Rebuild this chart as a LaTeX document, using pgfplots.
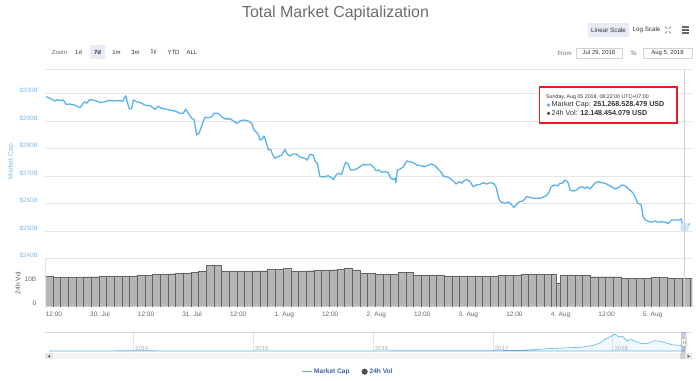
\documentclass[border=0pt]{standalone}
\usepackage{pgfplots}
\pgfplotsset{compat=1.18}
\usepackage{fontspec}
\setmainfont{Liberation Sans}
\definecolor{mcblue}{RGB}{88,178,236}
\definecolor{lblblue}{RGB}{124,186,236}
\definecolor{gridc}{RGB}{230,230,230}
\definecolor{txtgray}{RGB}{102,102,102}
\definecolor{txtdark}{RGB}{51,51,51}
\definecolor{btnbg}{RGB}{230,235,245}
\definecolor{legblue}{RGB}{60,100,160}
\definecolor{ttred}{RGB}{232,28,36}
\definecolor{barfill}{RGB}{182,182,182}
\definecolor{barline}{RGB}{100,100,100}
\newcommand{\fs}[1]{\fontsize{#1}{#1}\selectfont}
\begin{document}
\begin{tikzpicture}[x=1bp,y=1bp]
\useasboundingbox (0,0) rectangle (696,380);
% header
\node[font=\fs{16}, text=gray!85!black] at (335.5,367) {Total Market Capitalization};
\fill[btnbg] (588,343) rectangle (629,357);
\node[font=\fs{6.3}, text=txtdark] at (608.5,350) {Linear Scale};
\node[font=\fs{6.3}, text=txtdark] at (646.5,350) {Log Scale};
\draw[txtgray, line width=0.6] (665,346.5)--(667.2,348.7) (671,353.5)--(668.8,351.3) (665,353.5)--(667.2,351.3) (671,346.5)--(668.8,348.7);
\draw[txtgray, line width=1.2] (682,353)--(689,353) (682,350)--(689,350) (682,347)--(689,347);
\node[font=\fs{6}, text=txtgray] at (59.5,328) {Zoom};
\fill[btnbg] (90,321) rectangle (105,335);
\node[font=\fs{6}, text=txtdark] at (78.5,328) {1d};
\node[font=\bfseries\fs{6}, text=txtdark] at (97.5,328) {7d};
\node[font=\fs{6}, text=txtdark] at (116.5,328) {1m};
\node[font=\fs{6}, text=txtdark] at (135.5,328) {3m};
\node[font=\fs{6}, text=txtdark] at (153.5,328) {1y};
\node[font=\fs{6}, text=txtdark] at (173.5,328) {YTD};
\node[font=\fs{6}, text=txtdark] at (192,328) {ALL};
\node[font=\fs{6}, text=txtgray] at (564.5,327) {From};
\draw[gray!35] (576,322) rectangle (622,332);
\node[font=\fs{6}, text=txtdark] at (599,327) {Jul 29, 2018};
\node[font=\fs{6}, text=txtgray] at (633.5,327) {To};
\draw[gray!35] (643,322) rectangle (692,332);
\node[font=\fs{6}, text=txtdark] at (667.5,327) {Aug 5, 2018};
\draw[gridc, line width=0.6] (45,310.7)--(692,310.7);
% axis titles
\node[rotate=90, font=\fs{6.8}, text=lblblue] at (11,218.3) {Market Cap};
\node[rotate=90, font=\fs{6.8}, text=gray!70!black] at (18,97) {24h Vol};
% main axis
\begin{axis}[at={(45bp,121.7bp)}, anchor=south west, scale only axis,
  width=647bp, height=165bp,
  xmin=9.67, xmax=178.27, ymin=240, ymax=300,
  axis line style={draw=none}, xtick=\empty,
  ytick={240,250,...,300},
  yticklabels={\$240B,\$250B,\$260B,\$270B,\$280B,\$290B,\$300B},
  ymajorgrids, grid style={gridc, line width=0.6bp},
  major tick length=0pt,
  yticklabel style={font=\fs{6.3}, text=lblblue, anchor=east, inner sep=0pt, xshift=-7bp, yshift=2.6bp},
  clip=false,
  legend columns=2,
  legend style={at={(0.468,-0.687)}, anchor=center, draw=none, fill=none,
    font=\bfseries\fs{6.6}, nodes={text=legblue},
    /tikz/every even column/.append style={column sep=10bp}},
]
\addplot[mcblue, line width=1.3bp, line join=round,
  legend image code/.code={\draw[mcblue,line width=1.1bp] (0bp,0bp)--(10bp,0bp);}] coordinates {
(9.93,298.77) (10.97,298.17) (12.27,297.2) (12.87,297.7) (13.58,297.3) (14.44,297.6) (15.14,296.0) (16.18,296.1) (17.49,295.7) (18.79,294.8) (19.91,296.9) (20.53,296.4) (21.39,297.7) (22.70,297.4) (24.00,296.6) (25.30,296.9) (26.16,297.4) (27.47,297.2) (28.77,297.3) (29.92,297.2) (30.70,299.1) (31.22,296.4) (31.64,294.3) (32.26,294.5) (32.68,297.6) (33.56,296.9) (34.42,296.7) (35.73,295.7) (37.03,295.5) (38.33,294.2) (39.19,295.3) (40.08,294.5) (41.38,294.2) (42.68,293.7) (43.54,293.6) (44.85,292.7) (45.71,292.8) (46.33,294.2) (47.01,292.7) (47.90,290.9) (48.50,290.5) (49.20,284.8) (49.88,285.7) (50.76,289.2) (51.36,291.3)
(52.22,291.1) (53.11,291.5) (53.71,292.7) (54.83,292.7) (55.71,291.5) (56.57,290.7) (57.88,290.7) (58.74,290.0) (59.62,289.1) (60.48,289.9) (61.34,290.3) (62.65,289.9) (63.53,289.1) (64.13,286.65) (64.65,286.0) (65.25,285.1) (65.69,283.0) (66.40,283.6) (66.74,284.5) (67.26,282.4) (67.86,279.4) (68.49,279.6) (69.01,277.6) (69.60,276.4) (70.46,277.0) (71.35,277.6) (72.21,279.6) (72.81,277.8) (73.51,277.2) (74.22,277.9) (75.26,277.9) (75.94,277.0) (76.56,276.6) (77.42,276.4) (78.02,275.7) (78.72,277.8) (79.58,277.6) (80.03,275.4) (80.63,274.5) (81.33,269.7) (82.19,269.6) (83.49,270.0) (84.38,269.3) (84.79,268.6) (85.50,270.3) (86.10,270.9) (86.98,270.5) (87.58,273.3) (88.03,274.9) (88.70,274.2) (89.33,272.1) (90.01,272.1) (90.87,272.5) (91.75,273.3) (92.61,274.2) (93.50,273.9) (94.36,274.2) (95.22,273.3) (95.92,271.9) (96.78,272.1) (97.41,271.3) (98.27,271.5) (99.13,271.1) (99.75,269.1) (100.43,268.7) (100.87,269.1) (101.13,267.5) (101.47,272.1) (102.18,272.4) (103.04,273.3) (103.93,275.4) (104.78,275.1) (105.64,274.8) (106.53,273.9) (107.83,273.6) (108.69,273.3) (109.55,273.9) (110.44,274.3) (111.30,273.6) (112.16,272.4) (113.02,271.1) (113.44,269.9) (114.33,269.7) (115.21,269.1) (116.07,268.1) (116.77,267.0) (117.63,267.9) (118.26,267.3) (118.86,268.2) (119.56,268.7) (120.42,267.9) (121.28,266.0) (122.17,266.7) (123.02,266.9) (123.88,267.5) (124.77,267.0) (125.63,267.5) (126.49,267.3) (127.19,266.0) (127.79,262.4) (128.24,260.8) (128.94,260.2) (129.54,260.0) (130.40,260.5) (131.29,259.4) (131.89,258.5) (132.59,259.7) (133.27,260.6) (133.90,260.7) (134.49,261.2) (135.20,262.4) (136.06,262.2) (136.47,262.0) (137.36,261.8) (138.66,261.8) (139.52,262.2) (140.41,263.0) (141.01,264.0) (141.53,266.0) (142.39,266.65) (143.28,266.4) (143.87,267.3) (144.47,267.3) (145.17,268.5) (145.62,268.1) (146.03,267.3) (146.48,264.8) (147.34,264.5) (148.22,264.8) (148.82,265.7) (149.68,266.0) (150.39,265.45) (151.09,266.0) (151.69,265.2) (152.55,266.65) (153.18,267.6) (153.86,267.85) (154.75,267.5) (155.60,267.3) (156.46,266.65) (157.35,266.0) (158.21,265.2) (159.07,265.7) (159.96,266.65) (160.81,266.4) (161.52,265.45) (162.38,264.5) (162.98,263.6) (163.61,261.8) (164.13,260.0) (164.98,259.6) (165.58,254.8) (166.21,253.9) (167.07,253.3) (167.77,253.1) (168.63,253.6) (169.49,253.1) (170.38,253.3) (171.24,253.1) (172.10,252.7) (172.98,253.9) (173.84,253.9) (174.70,253.9) (175.41,254.3) (176.01,251.5) (176.45,251.3) (177.15,251.8) (177.75,252.7)
};
\addlegendentry{Market Cap}
\addplot[color=mcblue!30, only marks, mark=*, mark size=4.5bp, mark options={draw=none, fill=mcblue!30}, forget plot] coordinates {(176.37,251.27)};
\addplot[color=mcblue, only marks, mark=*, mark size=1.5bp, mark options={fill=mcblue, draw=white, line width=0.3bp}, forget plot] coordinates {(176.37,251.27)};
\addlegendimage{legend image code/.code={\fill[gray!60!black] (4bp,0bp) circle (2.8bp);}}
\addlegendentry{24h Vol}
\end{axis}
% volume axis
\begin{axis}[at={(45bp,73.3bp)}, anchor=south west, scale only axis,
  width=647bp, height=48.4bp,
  xmin=9.67, xmax=178.27, ymin=0, ymax=20,
  axis line style={draw=none},
  xtick={12,24,...,168},
  xticklabels={12:00,30. Jul,12:00,31. Jul,12:00,1. Aug,12:00,2. Aug,12:00,3. Aug,12:00,4. Aug,12:00,5. Aug},
  xticklabel style={font=\fs{6.5}, text=txtgray, anchor=base, inner sep=0pt, yshift=-9.7bp},
  ytick={0,10}, yticklabels={0,10B},
  yticklabel style={font=\fs{6.5}, text=txtgray, anchor=east, inner sep=0pt, xshift=-8.5bp, yshift=3.3bp},
  major tick length=0pt,
]
\addplot[ybar interval, fill=barfill, draw=barline, line width=0.4bp] coordinates {
(9.7,12.69) (11.7,12.17) (13.7,12.17) (15.7,12.17) (17.7,12.17) (19.7,12.38) (21.7,12.38) (23.7,12.69) (25.7,12.69) (27.7,12.69) (29.7,12.69) (31.7,12.69) (33.7,13.10) (35.7,13.10) (37.7,13.51) (39.7,13.51) (41.7,13.62) (43.7,13.82) (45.7,13.93) (47.7,14.24) (49.7,14.75) (51.7,17.23) (53.7,17.23) (55.7,14.75) (57.7,14.75) (59.7,14.75) (61.7,14.75) (63.7,14.86) (65.7,14.86) (67.7,15.48) (69.7,15.48) (71.7,15.79) (73.7,14.75) (75.7,14.75) (77.7,14.86) (79.7,15.17) (81.7,15.17) (83.7,15.27) (85.7,15.48) (87.7,16.09) (89.7,15.17) (91.7,13.82) (93.7,13.82) (95.7,13.51) (97.7,13.51) (99.7,13.51) (101.7,14.24) (103.7,14.24) (105.7,13.20) (107.7,13.20) (109.7,13.20) (111.7,13.20) (113.7,12.69) (115.7,12.69) (117.7,12.69) (119.7,12.69) (121.7,12.69) (123.7,12.69) (125.7,12.69) (127.7,13.10) (129.7,13.10) (131.7,13.10) (133.7,13.51) (135.7,13.51) (137.7,13.51) (139.7,13.51) (141.7,13.51) (142.9,9.9) (143.9,13.20) (145.7,13.20) (147.7,13.20) (149.7,13.20) (151.7,12.38) (153.7,12.38) (155.7,12.38) (157.7,12.38) (159.7,11.65) (161.7,11.65) (163.7,11.65) (165.7,11.65) (167.7,12.17) (169.7,12.17) (171.7,11.86) (173.7,11.86) (175.7,11.86) (177.7,11.86) (178.27,11.86)
};
\end{axis}
\draw[gridc, line width=0.6] (45,121.7)--(45,73.3);
% navigator axis
\begin{axis}[at={(45bp,27bp)}, anchor=south west, scale only axis,
  width=647bp, height=20.7bp,
  xmin=2013.264, xmax=2018.661, ymin=-100, ymax=915,
  axis line style={draw=none},
  xtick={2014,2015,2016,2017,2018},
  xticklabels={2014,2015,2016,2017,2018},
  xmajorgrids, grid style={gridc, line width=0.6bp},
  xticklabel style={font=\fs{6}, text=gray!65, anchor=base west, inner sep=0pt, xshift=1.8bp, yshift=2.5bp},
  ytick=\empty, major tick length=0pt,
]
\addplot[mcblue, line width=0.6bp, fill=mcblue, fill opacity=0.08] coordinates {
(2013.30,1.5) (2013.6,2) (2013.85,8) (2013.92,13) (2014.0,11) (2014.1,9) (2014.3,7) (2014.5,8) (2014.8,6) (2015.0,4) (2015.5,4) (2016.0,7) (2016.5,11) (2016.9,14) (2017.0,17) (2017.2,25) (2017.33,60) (2017.45,110) (2017.6,150) (2017.68,170) (2017.75,190) (2017.84,280) (2017.9,400) (2017.93,560) (2017.98,700) (2018.02,830) (2018.04,720) (2018.06,680) (2018.08,730) (2018.12,500) (2018.15,560) (2018.2,440) (2018.25,350) (2018.3,390) (2018.35,500) (2018.4,470) (2018.45,380) (2018.5,300) (2018.55,280) (2018.594,255)
} \closedcycle;
\end{axis}
\draw[gray!30, line width=0.6] (45,47.7)--(692,47.7);
\fill[blue!40!gray, opacity=0.3] (681,47.7) rectangle (685.5,27);
\filldraw[fill=gray!8, draw=gray!60, line width=0.5, rounded corners=1] (681.3,41.7) rectangle (686.8,34);
\draw[gray!60, line width=0.4] (683.3,39.5)--(683.3,36.2) (684.8,39.5)--(684.8,36.2);
% scrollbar
\fill[gray!8] (45,20.7) rectangle (692,26.7);
\fill[gray!20] (45,20.7) rectangle (52.7,26.7);
\fill[gray!70!black] (50,22.3)--(50,25.1)--(47.6,23.7)--cycle;
\fill[gray!35] (680,20.7) rectangle (685,26.7);
\fill[gray!20] (685,20.7) rectangle (692,26.7);
\fill[gray!70!black] (687.6,22.3)--(687.6,25.1)--(690,23.7)--cycle;
% crosshair
\draw[gray!35, line width=0.7] (684.5,310.7)--(684.5,73.3);
% tooltip
\filldraw[fill=white, draw=ttred, line width=1.8] (539.5,292.7) rectangle (677,257.3);
\node[font=\fs{5.3}, text=txtdark, anchor=west, inner sep=0pt] at (546,283.3) {Sunday, Aug 05 2018, 08:22:00 UTC+07:00};
\fill[mcblue] (548.5,275) circle (1.8);
\node[font=\fs{7.2}, text=txtdark, anchor=west, inner sep=0pt] at (551.5,275) {Market Cap: \textbf{251.268.528.479 USD}};
\fill[gray!60!black] (548.5,266.7) circle (1.8);
\node[font=\fs{7.2}, text=txtdark, anchor=west, inner sep=0pt] at (551.5,266.7) {24h Vol: \textbf{12.148.454.079 USD}};
\end{tikzpicture}
\end{document}
